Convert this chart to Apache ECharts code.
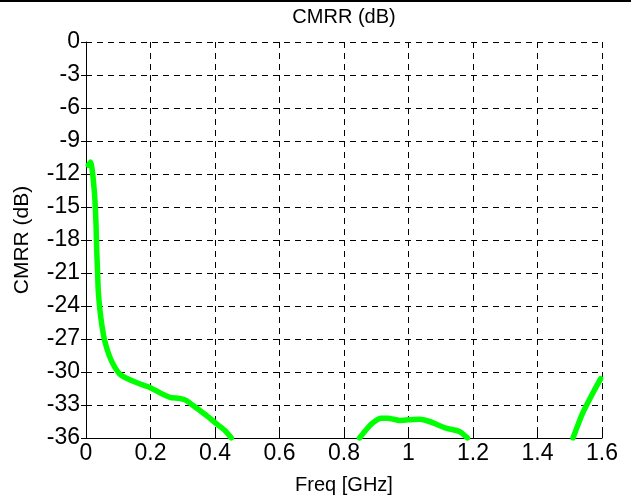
<!DOCTYPE html>
<html>
<head>
<meta charset="utf-8">
<script src="https://cdn.jsdelivr.net/npm/echarts@6/dist/echarts.min.js"></script>
<style>
html,body{margin:0;padding:0;background:#fff;}
#chart{width:631px;height:500px;}
</style>
</head>
<body>
<div id="chart"></div>
<script>
// Data (Freq in GHz, CMRR in dB)
var seg1Freq = [0.007, 0.014, 0.020, 0.025, 0.028, 0.031, 0.033, 0.036, 0.038, 0.043, 0.049, 0.056, 0.064, 0.076, 0.090, 0.105, 0.121, 0.160, 0.198, 0.230, 0.260, 0.290, 0.312, 0.330, 0.353, 0.380, 0.404, 0.430, 0.451];
var seg1Cmrr = [-11.2, -10.9, -11.8, -13.3, -14.5, -16.5, -18.7, -21.0, -22.6, -24.3, -25.7, -26.9, -27.8, -28.8, -29.6, -30.2, -30.5, -31.0, -31.4, -31.9, -32.3, -32.4, -32.6, -33.0, -33.5, -34.1, -34.7, -35.3, -36.0];
var seg2Freq = [0.848, 0.870, 0.890, 0.915, 0.936, 0.972, 1.000, 1.034, 1.065, 1.090, 1.116, 1.158, 1.183];
var seg2Cmrr = [-36.0, -35.2, -34.6, -34.2, -34.2, -34.4, -34.35, -34.3, -34.5, -34.8, -35.1, -35.4, -36.0];
var seg3Freq = [1.510, 1.539, 1.570, 1.596];
var seg3Cmrr = [-36.0, -33.8, -32.0, -30.6];

var titleText = 'CMRR (dB)';
var xName = 'Freq [GHz]';
var yName = 'CMRR (dB)';

function pairs(f, v) { return f.map(function (x, i) { return [x, v[i]]; }); }

var FONT = 'Arial, "Liberation Sans", sans-serif';
var chart = echarts.init(document.getElementById('chart'), null, {renderer: 'canvas'});

var lineStyleSer = {color: '#00ff00', width: 5.5, cap: 'round', join: 'round'};
function seg(f, v) {
  return {type: 'line', data: pairs(f, v), showSymbol: false, symbol: 'none', smooth: 0.2,
          lineStyle: lineStyleSer, itemStyle: {color: '#00ff00'}, clip: true, animation: false};
}

var gridDash = {show: true, lineStyle: {color: '#000', width: 1, type: [6, 5]}};

chart.setOption({
  animation: false,
  backgroundColor: '#fff',
  grid: {left: 86, right: 29, top: 42, bottom: 59, containLabel: false},
  graphic: [
    {type: 'rect', left: 0, top: 0, shape: {width: 631, height: 2}, style: {fill: '#000'}},
    {type: 'text', x: 344, y: 17, style: {text: titleText, font: '20px ' + FONT, fill: '#000', align: 'center', verticalAlign: 'middle'}}
  ],
  xAxis: [{
    type: 'value', min: 0, max: 1.6, interval: 0.2, position: 'bottom',
    name: xName, nameLocation: 'middle', nameGap: 37,
    nameTextStyle: {fontSize: 20, fontFamily: FONT, color: '#000'},
    axisLine: {show: true, onZero: false, lineStyle: {color: '#000', width: 1}},
    axisTick: {show: true, inside: true, length: 5, lineStyle: {color: '#000'}},
    axisLabel: {show: true, fontSize: 23, fontFamily: FONT, color: '#000', margin: 4},
    splitLine: gridDash
  }, {
    type: 'value', min: 0, max: 1.6, interval: 0.2, position: 'top',
    axisLine: {show: false},
    axisTick: {show: true, inside: true, length: 5, lineStyle: {color: '#000'}},
    axisLabel: {show: false}, splitLine: {show: false}
  }],
  yAxis: [{
    type: 'value', min: -36, max: 0, interval: 3, position: 'left',
    name: yName, nameLocation: 'middle', nameGap: 53, nameRotate: 90,
    nameTextStyle: {fontSize: 21, fontFamily: FONT, color: '#000'},
    axisLine: {show: true, onZero: false, lineStyle: {color: '#000', width: 1}},
    axisTick: {show: true, inside: true, length: 5, lineStyle: {color: '#000'}},
    axisLabel: {show: true, fontSize: 23, fontFamily: FONT, color: '#000', margin: 6},
    splitLine: gridDash
  }, {
    type: 'value', min: -36, max: 0, interval: 3, position: 'right',
    axisLine: {show: false},
    axisTick: {show: true, inside: true, length: 5, lineStyle: {color: '#000'}},
    axisLabel: {show: false}, splitLine: {show: false}
  }],
  series: [seg(seg1Freq, seg1Cmrr), seg(seg2Freq, seg2Cmrr), seg(seg3Freq, seg3Cmrr)]
});
</script>
</body>
</html>
